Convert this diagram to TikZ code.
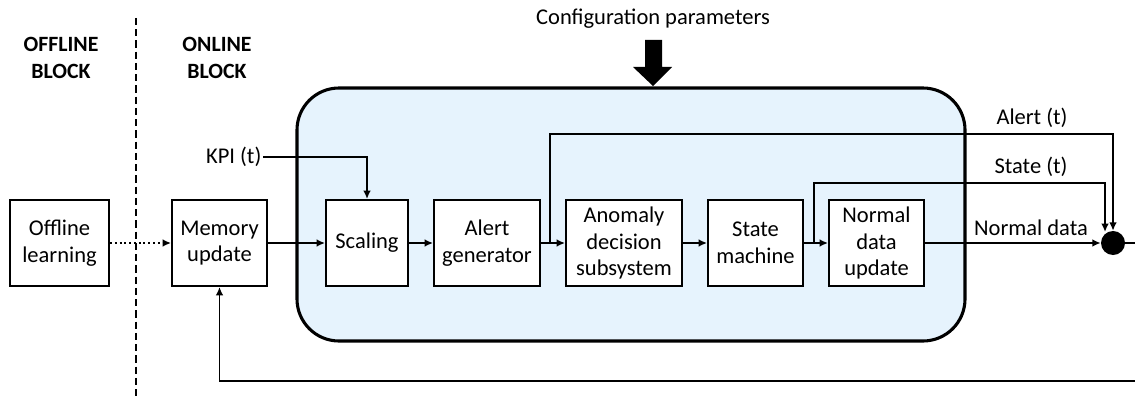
\documentclass[tikz,border=0pt]{standalone}
\usepackage{fontspec}
\setmainfont{Carlito}
\usetikzlibrary{arrows.meta}
\definecolor{panelblue}{HTML}{E6F3FD}
\tikzset{
  blk/.style={draw=black, line width=1.4pt, fill=white, align=center, font=\fontsize{16}{19}\selectfont, minimum height=2.15cm, inner sep=1pt},
  conn/.style={line width=1.4pt, -{Latex[length=6pt,width=5.5pt]}},
  plain/.style={line width=1.4pt},
  lbl/.style={font=\fontsize{16}{19}\selectfont, inner sep=1pt},
  head/.style={font=\bfseries\fontsize{15.5}{19.5}\selectfont, align=center, inner sep=1pt}
}
\begin{document}
\begin{tikzpicture}[x=0.025cm, y=-0.025cm]
\useasboundingbox (0,0) rectangle (1135,400);
% panel
\draw[line width=2.2pt, fill=panelblue, rounded corners=1.05cm] (297,88) rectangle (965,341);
% dashed separator
\draw[line width=1.3pt, dash pattern=on 5pt off 3pt] (136,18) -- (136,400);
% headings
\node[head] (offh) at (61,58) {OFFLINE\\BLOCK};
\node[head] (onh) at (217,58) {ONLINE\\BLOCK};
% config
\node[lbl] (cfg) at (653,19) {Configuration parameters};
\fill (645,40) -- (662,40) -- (662,67) -- (672,67) -- (653,86) -- (633,67) -- (645,67) -- cycle;
% boxes
\node[blk, minimum width=2.475cm] (off) at (59.5,243) {Offline\\learning};
\node[blk, minimum width=2.375cm] (mem) at (219.5,243) {Memory\\update};
\node[blk, minimum width=2.05cm] (sc) at (367,243) {Scaling};
\node[blk, minimum width=2.65cm] (ag) at (487,243) {Alert\\generator};
\node[blk, minimum width=2.9cm] (ad) at (624,243) {Anomaly\\decision\\subsystem};
\node[blk, minimum width=2.375cm] (sm) at (755.5,243) {State\\machine};
\node[blk, minimum width=2.375cm] (nd) at (876.5,243) {Normal\\data\\update};
\node[circle, fill=black, minimum size=0.6cm, inner sep=0pt] (dot) at (1113,243) {};
% labels
\node[lbl, anchor=east] (kpi) at (263,157) {KPI (t)};
\node[lbl] (alab) at (1032,118) {Alert (t)};
\node[lbl] (slab) at (1031,167) {State (t)};
\node[lbl] (nlab) at (1031,228) {Normal data};
% connectors
\draw[line width=1.4pt, dotted, -{Latex[length=6pt,width=5.5pt]}] (off) -- (mem);
\draw[conn] (mem) -- (sc);
\draw[conn] (kpi.east) -| (sc.north);
\draw[conn] (sc) -- (ag);
\draw[conn] (ag) -- (ad);
\draw[conn] (ad) -- (sm);
\draw[conn] (sm) -- (nd);
\coordinate (abr) at (550,243);
\coordinate (sbr) at (814,243);
\draw[conn] (abr) |- (1113,134) -- (dot.north);
\draw[conn] (sbr) |- (1105,183) -- (1105,232);
\draw[conn] (nd) -- (dot);
\coordinate (redge) at (1136,243);
\coordinate (bedge) at (1136,381);
\draw[plain] (dot) -- (redge);
\draw[conn] (bedge) -| (mem.south);
\end{tikzpicture}
\end{document}
